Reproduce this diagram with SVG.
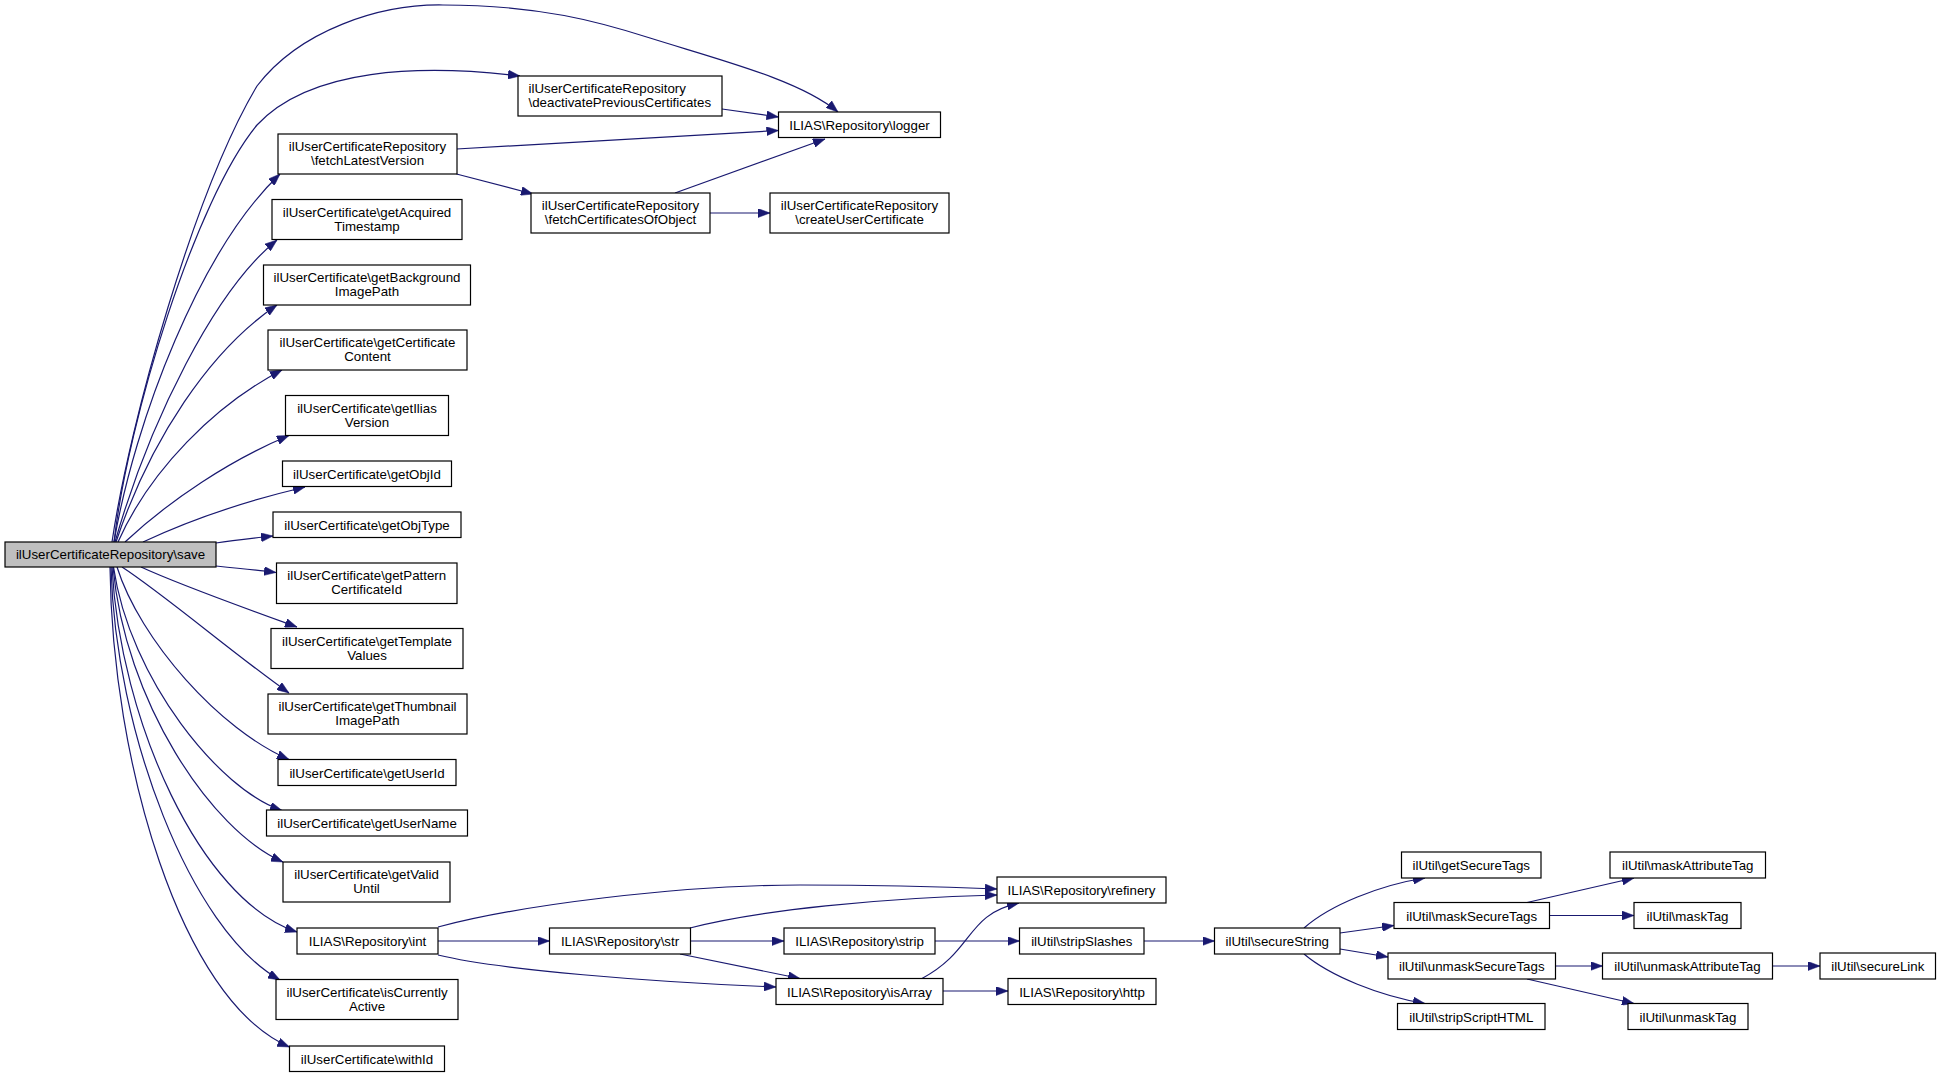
<svg xmlns="http://www.w3.org/2000/svg" width="1941" height="1077" viewBox="0 0 1941 1077">
<defs>
<marker id="ah" viewBox="0 0 12 9" refX="12" refY="4.5" markerWidth="12" markerHeight="9" markerUnits="userSpaceOnUse" orient="auto">
<path d="M0,0 L12,4.5 L0,9 z" fill="#191970" stroke="#191970" stroke-width="0.5"/>
</marker>
</defs>
<style>
.n rect{fill:#ffffff;stroke:#000000;stroke-width:1.2}
.n.root rect{fill:#bfbfbf}
.n text{font-family:"Liberation Sans",Arial,Helvetica,sans-serif;font-size:13.3px;fill:#000000;text-anchor:middle}
.n text.l{text-anchor:start}
#edges path{fill:none;stroke:#191970;stroke-width:1.2;marker-end:url(#ah)}
</style>
<rect x="0" y="0" width="1941" height="1077" fill="#ffffff"/>
<g id="edges">
<path d="M112,542 C130,420 195,190 257,86 C300,30 380,4 443,5 C540,5 600,22 650,38 C720,60 800,80 838,112"/>
<path d="M114,542 C128,420 195,200 257,125 C310,68 420,64 520,76"/>
<path d="M114,542 C135,420 200,250 280,174"/>
<path d="M115,542 C150,420 215,290 277,240"/>
<path d="M116,542 C150,440 210,350 277,305"/>
<path d="M118,542 C150,470 215,405 282,370"/>
<path d="M125,542 C170,500 230,460 289,435.5"/>
<path d="M143,542 C190,520 250,500 305,487"/>
<path d="M216,543 C235,540 255,538 273,536"/>
<path d="M216,566 C236,568 256,570 276,572.5"/>
<path d="M141,567 C180,585 250,610 297,627"/>
<path d="M122,567 C165,595 235,655 289,693"/>
<path d="M117,567 C140,640 220,730 289,759.5"/>
<path d="M113.5,567 C130,680 220,790 282,810.5"/>
<path d="M113,567 C125,700 210,830 283,862"/>
<path d="M112,567 C120,720 200,900 297,932"/>
<path d="M111,567 C115,730 190,930 280,980"/>
<path d="M110,567 C112,760 180,1000 289.5,1047"/>
<path d="M722,109 L778.5,117"/>
<path d="M456.5,149 L778.5,130.5"/>
<path d="M675,193 L825,139"/>
<path d="M456.5,174 L533,194"/>
<path d="M710,213 L770,213"/>
<path d="M438,927 C520,905 680,885 800,885 C880,885 950,887 997,889"/>
<path d="M690,928 C760,910 880,898 997,895"/>
<path d="M438,941 L549.5,941"/>
<path d="M438,955 C500,970 650,982 776,987"/>
<path d="M680,954 L800,978.5"/>
<path d="M690.5,941 L784,941"/>
<path d="M935,941 L1019.5,941"/>
<path d="M922,978.5 C975,950 965,915 1019,903"/>
<path d="M943,991 L1008,991"/>
<path d="M1144,941 L1214.5,941"/>
<path d="M1304,928 C1330,905 1380,885 1425,878"/>
<path d="M1340,933 L1394,925.5"/>
<path d="M1340,949 L1388,957"/>
<path d="M1304,954 C1330,976 1380,996 1425,1003.5"/>
<path d="M1527,902.5 L1634,878"/>
<path d="M1549.5,915.5 L1634,915.5"/>
<path d="M1555.5,966 L1602.5,966"/>
<path d="M1527,979 L1634,1003.5"/>
<path d="M1772.5,966 L1820,966"/>
</g>
<g id="n_save" class="n root"><rect x="5" y="542" width="211" height="25"/><text x="110.5" y="559">ilUserCertificateRepository\save</text></g>
<g id="n_deactivate" class="n"><rect x="518" y="76" width="204" height="40"/><text class="l" x="528.5" y="93">ilUserCertificateRepository</text><text class="l" x="528.5" y="107">\deactivatePreviousCertificates</text></g>
<g id="n_logger" class="n"><rect x="778.5" y="112" width="162" height="25.5"/><text x="859.5" y="129.5">ILIAS\Repository\logger</text></g>
<g id="n_fetchLatestVersion" class="n"><rect x="278" y="134" width="179" height="40"/><text x="367.5" y="151">ilUserCertificateRepository</text><text x="367.5" y="165">\fetchLatestVersion</text></g>
<g id="n_fetchCertificatesOfObject" class="n"><rect x="531" y="193" width="179" height="40"/><text x="620.5" y="210">ilUserCertificateRepository</text><text x="620.5" y="224">\fetchCertificatesOfObject</text></g>
<g id="n_createUserCertificate" class="n"><rect x="770" y="193" width="179" height="40"/><text x="859.5" y="210">ilUserCertificateRepository</text><text x="859.5" y="224">\createUserCertificate</text></g>
<g id="n_getAcquiredTimestamp" class="n"><rect x="272" y="199.5" width="190" height="40"/><text x="367" y="216.5">ilUserCertificate\getAcquired</text><text x="367" y="230.5">Timestamp</text></g>
<g id="n_getBackgroundImagePath" class="n"><rect x="263.5" y="265" width="207" height="40"/><text x="367" y="282">ilUserCertificate\getBackground</text><text x="367" y="296">ImagePath</text></g>
<g id="n_getCertificateContent" class="n"><rect x="268" y="330" width="199" height="40"/><text x="367.5" y="347">ilUserCertificate\getCertificate</text><text x="367.5" y="361">Content</text></g>
<g id="n_getIliasVersion" class="n"><rect x="285.5" y="395.5" width="163" height="40"/><text x="367" y="412.5">ilUserCertificate\getIlias</text><text x="367" y="426.5">Version</text></g>
<g id="n_getObjId" class="n"><rect x="282.5" y="461" width="169" height="25.5"/><text x="367" y="478.5">ilUserCertificate\getObjId</text></g>
<g id="n_getObjType" class="n"><rect x="273" y="512" width="188" height="25.5"/><text x="367" y="529.5">ilUserCertificate\getObjType</text></g>
<g id="n_getPatternCertificateId" class="n"><rect x="276.5" y="563" width="180.5" height="40.5"/><text x="366.75" y="580">ilUserCertificate\getPattern</text><text x="366.75" y="594">CertificateId</text></g>
<g id="n_getTemplateValues" class="n"><rect x="271" y="628.5" width="192" height="40"/><text x="367" y="645.5">ilUserCertificate\getTemplate</text><text x="367" y="659.5">Values</text></g>
<g id="n_getThumbnailImagePath" class="n"><rect x="268" y="694" width="199" height="40"/><text x="367.5" y="711">ilUserCertificate\getThumbnail</text><text x="367.5" y="725">ImagePath</text></g>
<g id="n_getUserId" class="n"><rect x="278" y="759.5" width="178" height="26"/><text x="367" y="777.5">ilUserCertificate\getUserId</text></g>
<g id="n_getUserName" class="n"><rect x="266.5" y="810" width="201" height="26"/><text x="367" y="828">ilUserCertificate\getUserName</text></g>
<g id="n_getValidUntil" class="n"><rect x="283" y="862" width="167" height="40"/><text x="366.5" y="879">ilUserCertificate\getValid</text><text x="366.5" y="893">Until</text></g>
<g id="n_int" class="n"><rect x="297" y="928" width="141" height="26"/><text x="367.5" y="946">ILIAS\Repository\int</text></g>
<g id="n_isCurrentlyActive" class="n"><rect x="276" y="979.5" width="182" height="40"/><text x="367" y="996.5">ilUserCertificate\isCurrently</text><text x="367" y="1010.5">Active</text></g>
<g id="n_withId" class="n"><rect x="289.5" y="1046" width="155" height="25.5"/><text x="367" y="1063.5">ilUserCertificate\withId</text></g>
<g id="n_str" class="n"><rect x="549.5" y="928" width="141" height="26"/><text x="620" y="946">ILIAS\Repository\str</text></g>
<g id="n_strip" class="n"><rect x="784" y="928" width="151" height="26"/><text x="859.5" y="946">ILIAS\Repository\strip</text></g>
<g id="n_isArray" class="n"><rect x="776" y="978.5" width="167" height="26"/><text x="859.5" y="996.5">ILIAS\Repository\isArray</text></g>
<g id="n_refinery" class="n"><rect x="997" y="877" width="169" height="26"/><text x="1081.5" y="895">ILIAS\Repository\refinery</text></g>
<g id="n_stripSlashes" class="n"><rect x="1019.5" y="928" width="124.5" height="26"/><text x="1081.75" y="946">ilUtil\stripSlashes</text></g>
<g id="n_http" class="n"><rect x="1008" y="978.5" width="148" height="26"/><text x="1082" y="996.5">ILIAS\Repository\http</text></g>
<g id="n_secureString" class="n"><rect x="1214.5" y="928" width="125.5" height="26"/><text x="1277.25" y="946">ilUtil\secureString</text></g>
<g id="n_getSecureTags" class="n"><rect x="1401.5" y="852" width="139.5" height="26"/><text x="1471.25" y="870">ilUtil\getSecureTags</text></g>
<g id="n_maskSecureTags" class="n"><rect x="1394" y="902.5" width="155.5" height="26"/><text x="1471.75" y="920.5">ilUtil\maskSecureTags</text></g>
<g id="n_unmaskSecureTags" class="n"><rect x="1388" y="953" width="167.5" height="26"/><text x="1471.75" y="971">ilUtil\unmaskSecureTags</text></g>
<g id="n_stripScriptHTML" class="n"><rect x="1397.5" y="1003.5" width="147.5" height="26"/><text x="1471.25" y="1021.5">ilUtil\stripScriptHTML</text></g>
<g id="n_maskAttributeTag" class="n"><rect x="1610" y="852" width="155.5" height="26"/><text x="1687.75" y="870">ilUtil\maskAttributeTag</text></g>
<g id="n_maskTag" class="n"><rect x="1634" y="902.5" width="107" height="26"/><text x="1687.5" y="920.5">ilUtil\maskTag</text></g>
<g id="n_unmaskAttributeTag" class="n"><rect x="1602.5" y="953" width="170" height="26"/><text x="1687.5" y="971">ilUtil\unmaskAttributeTag</text></g>
<g id="n_unmaskTag" class="n"><rect x="1628" y="1003.5" width="120" height="26"/><text x="1688" y="1021.5">ilUtil\unmaskTag</text></g>
<g id="n_secureLink" class="n"><rect x="1820" y="953" width="115.5" height="26"/><text x="1877.75" y="971">ilUtil\secureLink</text></g>
</svg>
